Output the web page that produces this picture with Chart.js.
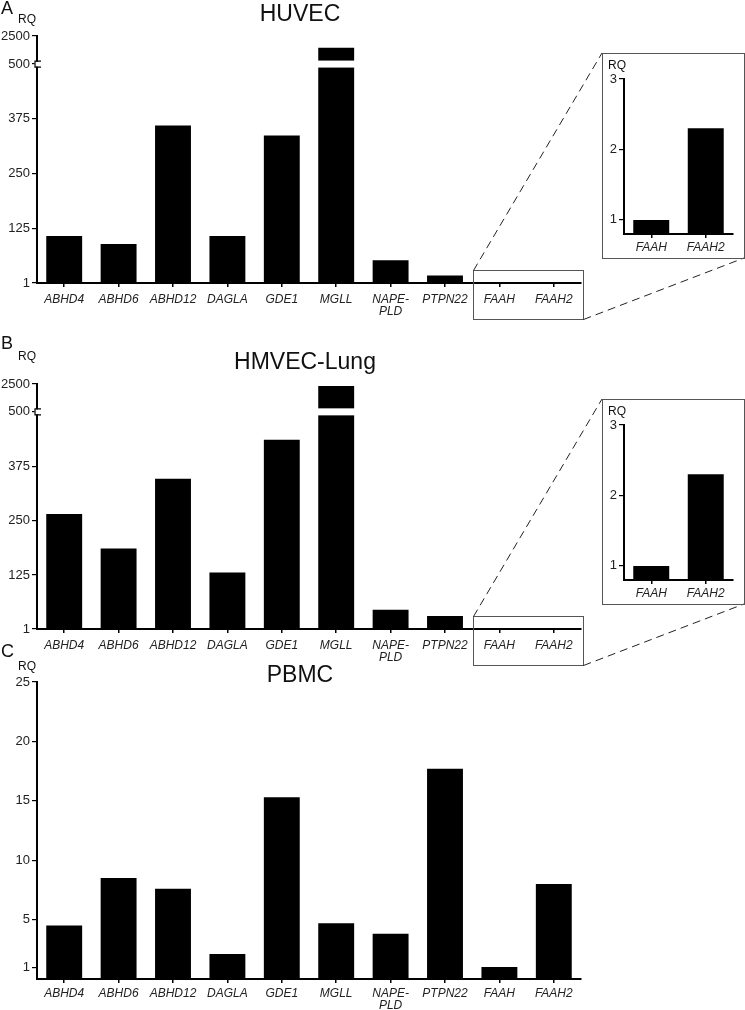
<!DOCTYPE html>
<html>
<head>
<meta charset="utf-8">
<script src="https://cdn.jsdelivr.net/npm/chart.js@4.4.1/dist/chart.umd.min.js"></script>
<style>
html,body{margin:0;padding:0;background:#fff;}
#wrap{position:relative;width:745px;height:1010px;overflow:hidden;background:#fff;}
#wrap canvas{position:absolute;}
</style>
</head>
<body>
<div id="wrap">
  <canvas id="cA" width="745" height="330" style="left:0;top:0"></canvas>
  <canvas id="cB" width="745" height="350" style="left:0;top:330px"></canvas>
  <canvas id="cC" width="745" height="380" style="left:0;top:630px"></canvas>
  <canvas id="iA" width="143" height="206" style="left:602px;top:53px"></canvas>
  <canvas id="iB" width="143" height="206" style="left:602px;top:399px"></canvas>
</div>
<script>
// ---------- data ----------
const categories = ['ABHD4','ABHD6','ABHD12','DAGLA','GDE1','MGLL',['NAPE-','PLD'],'PTPN22','FAAH','FAAH2'];
const huvec      = [108, 90, 360, 108, 337, 1660, 53, 18, 1.0, 2.3];
const hmvecLung  = [265, 186, 346, 131, 436, 2360, 45, 31, 1.0, 2.3];
const pbmc       = [4.5, 8.5, 7.6, 2.1, 15.3, 4.7, 3.8, 17.7, 1.0, 8.0];
const insetCategories = ['FAAH','FAAH2'];
const huvecInset = [1.0, 2.3];
const hmvecInset = [1.0, 2.3];
const brokenTicks = [1, 125, 250, 375, 500, 2500];
const pbmcTicks   = [1, 5, 10, 15, 20, 25];
const insetTicks  = [1, 2, 3];
const titles = ['HUVEC', 'HMVEC-Lung', 'PBMC'];
const letters = ['A', 'B', 'C'];

const FONT = '"Liberation Sans", Arial, Helvetica, sans-serif';
const BREAK_AT = 500;
const TOP_SPAN = 64; // display units given to the 500..2500 segment

// ---------- broken linear scale ----------
class BrokenScale extends Chart.LinearScale {
  _fwd(v){ return v <= BREAK_AT ? v : BREAK_AT + (v - BREAK_AT) * TOP_SPAN / (this.max - BREAK_AT); }
  _inv(d){ return d <= BREAK_AT ? d : BREAK_AT + (d - BREAK_AT) * (this.max - BREAK_AT) / TOP_SPAN; }
  getPixelForValue(v){
    const a = this._fwd(this.min), b = this._fwd(this.max);
    return this.getPixelForDecimal((this._fwd(v) - a) / (b - a));
  }
  getValueForPixel(p){
    const a = this._fwd(this.min), b = this._fwd(this.max);
    return this._inv(a + this.getDecimalForPixel(p) * (b - a));
  }
}
BrokenScale.id = 'brokenLinear';
BrokenScale.defaults = Chart.LinearScale.defaults;
Chart.register(BrokenScale);

// ---------- plugins ----------
const headerPlugin = {
  id: 'header',
  afterDraw(chart, args, o){
    const ctx = chart.ctx; ctx.save();
    ctx.fillStyle = '#111'; ctx.textBaseline = 'middle'; ctx.textAlign = 'left';
    ctx.font = '18px ' + FONT; ctx.fillText(o.letter, o.letterX, o.letterY);
    ctx.font = '12px ' + FONT; ctx.textAlign = 'center'; ctx.fillText('RQ', o.rqX, o.rqY);
    ctx.font = '23px ' + FONT; ctx.textAlign = 'center'; ctx.fillText(o.title, o.titleX, o.titleY);
    ctx.restore();
  }
};

const breakPlugin = {
  id: 'axisBreak',
  afterDatasetsDraw(chart){
    const y = chart.scales.y, ctx = chart.ctx;
    const yb = y.getPixelForValue(BREAK_AT);
    const meta = chart.getDatasetMeta(0);
    const data = chart.data.datasets[0].data;
    ctx.save(); ctx.fillStyle = '#fff';
    meta.data.forEach((bar, i) => {
      if (data[i] > BREAK_AT) ctx.fillRect(bar.x - bar.width/2 - 1, yb - 3.5, bar.width + 2, 7);
    });
    ctx.restore();
  },
  afterDraw(chart){
    const y = chart.scales.y, ctx = chart.ctx;
    const yb = y.getPixelForValue(BREAK_AT);
    const x0 = chart.chartArea.left;
    ctx.save();
    ctx.fillStyle = '#fff'; ctx.fillRect(x0 - 2.5, yb - 2.5, 6, 5);
    ctx.strokeStyle = '#000'; ctx.lineWidth = 1.2;
    ctx.beginPath();
    ctx.moveTo(x0 + 4, yb - 3); ctx.lineTo(x0 - 2, yb - 3); ctx.lineTo(x0 - 2, yb + 3); ctx.lineTo(x0 + 4, yb + 3);
    ctx.stroke();
    ctx.restore();
  }
};

const zoomBoxPlugin = {
  id: 'zoomBox',
  afterDraw(chart, args, o){
    const x = chart.scales.x, area = chart.chartArea, ctx = chart.ctx;
    const left = Math.round((x.getPixelForValue(7) + x.getPixelForValue(8)) / 2) + 1.5;
    const right = Math.round(area.right + 2) + 0.5;
    const top = Math.round(area.bottom - 13) + 0.5, bottom = Math.round(area.bottom + 36) + 0.5;
    ctx.save();
    ctx.strokeStyle = '#555'; ctx.lineWidth = 1;
    ctx.strokeRect(left, top, right - left, bottom - top);
    ctx.strokeStyle = '#222'; ctx.setLineDash([8, 5]);
    ctx.beginPath();
    ctx.moveTo(left, top); ctx.lineTo(o.insetLeft, o.insetTop);
    ctx.moveTo(right, bottom); ctx.lineTo(o.insetRight, o.insetBottom);
    ctx.stroke();
    ctx.restore();
  }
};

const framePlugin = {
  id: 'frame',
  afterDraw(chart){
    const ctx = chart.ctx; ctx.save();
    ctx.strokeStyle = '#555'; ctx.lineWidth = 1;
    ctx.strokeRect(0.5, 0.5, chart.width - 1, chart.height - 1);
    ctx.fillStyle = '#111'; ctx.font = '12px ' + FONT; ctx.textAlign = 'center'; ctx.textBaseline = 'middle';
    ctx.fillText('RQ', 15, 13);
    ctx.restore();
  }
};

// ---------- shared option builders ----------
function xScale(height, tickPad){
  return {
    type: 'category', offset: true,
    afterFit: s => { s.height = height; },
    border: {display: true, color: '#000', width: 2},
    grid: {offset: false, drawOnChartArea: false, drawTicks: true, tickLength: 4, color: '#000', lineWidth: 1.5},
    ticks: {color: '#222', font: {family: FONT, size: 12, style: 'italic', lineHeight: 1.05}, padding: tickPad, maxRotation: 0, autoSkip: false}
  };
}
function yScale(type, min, max, tickList, width, size){
  return {
    type, min, max,
    afterBuildTicks: s => { s.ticks = tickList.map(v => ({value: v})); },
    afterFit: s => { s.width = width; },
    border: {display: true, color: '#000', width: 2},
    grid: {drawOnChartArea: false, drawTicks: true, tickLength: 5, color: '#000', lineWidth: 1.2},
    ticks: {color: '#222', font: {family: FONT, size: size}, padding: 2, callback: v => String(v)}
  };
}

function mainChart(canvasId, values, yOpts, base, padTop, xHeight, xPad, header, plugins, extra){
  const opts = {
    responsive: false, animation: false, events: [],
    layout: {padding: {left: 0, top: padTop, right: 164, bottom: 0}},
    plugins: Object.assign({legend: {display: false}, tooltip: {enabled: false}, title: {display: false}, header}, extra || {}),
    scales: {x: xScale(xHeight, xPad), y: yOpts}
  };
  return new Chart(document.getElementById(canvasId), {
    type: 'bar',
    data: {labels: categories, datasets: [{data: values, backgroundColor: '#000', borderWidth: 0, base, barPercentage: 0.66, categoryPercentage: 1}]},
    options: opts,
    plugins: [headerPlugin].concat(plugins)
  });
}

function insetChart(canvasId, values){
  return new Chart(document.getElementById(canvasId), {
    type: 'bar',
    data: {labels: insetCategories, datasets: [{data: values, backgroundColor: '#000', borderWidth: 0, base: 0.8, barPercentage: 0.66, categoryPercentage: 1}]},
    options: {
      responsive: false, animation: false, events: [],
      layout: {padding: {left: 0, top: 26, right: 12, bottom: 0}},
      plugins: {legend: {display: false}, tooltip: {enabled: false}},
      scales: {x: xScale(25, 3), y: yScale('linear', 0.8, 3, insetTicks, 22, 13)}
    },
    plugins: [framePlugin]
  });
}

// Panel A (canvas top 0)
mainChart('cA', huvec, yScale('brokenLinear', 1, 2500, brokenTicks, 37, 13), 1, 36, 47, 6,
  {letter: letters[0], letterX: 1, letterY: 9, rqX: 27, rqY: 20, title: titles[0], titleX: 300, titleY: 15},
  [breakPlugin, zoomBoxPlugin],
  {zoomBox: {insetLeft: 602, insetTop: 53, insetRight: 744, insetBottom: 258}});

// Panel B (canvas top 330)
mainChart('cB', hmvecLung, yScale('brokenLinear', 1, 2500, brokenTicks, 37, 13), 1, 54, 51, 6,
  {letter: letters[1], letterX: 1, letterY: 14, rqX: 27, rqY: 27, title: titles[1], titleX: 305, titleY: 33},
  [breakPlugin, zoomBoxPlugin],
  {zoomBox: {insetLeft: 602, insetTop: 399 - 330, insetRight: 744, insetBottom: 604 - 330}});

// Panel C (canvas top 630)
mainChart('cC', pbmc, yScale('linear', 0, 25, pbmcTicks, 37, 13), 0, 52, 31, 4,
  {letter: letters[2], letterX: 1, letterY: 22, rqX: 27, rqY: 37, title: titles[2], titleX: 300, titleY: 46},
  [], {});

// Insets
insetChart('iA', huvecInset);
insetChart('iB', hmvecInset);
</script>
</body>
</html>
